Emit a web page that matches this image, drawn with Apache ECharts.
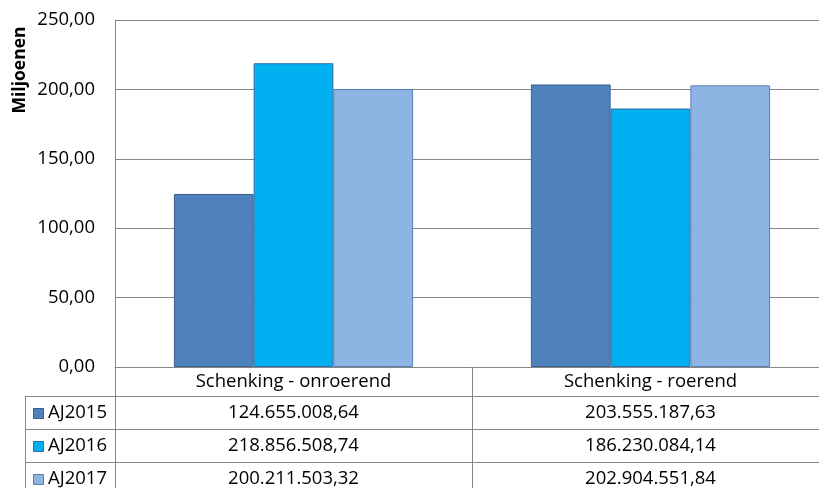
<!DOCTYPE html>
<html><head><meta charset="utf-8">
<script src="https://cdn.jsdelivr.net/npm/echarts@6/dist/echarts.min.js"></script>
<style>html,body{margin:0;padding:0;overflow:hidden;background:#fff}#c{width:829px;height:488px}</style>
</head><body><div id="c"></div>
<script>
const categories = ['Schenking - onroerend', 'Schenking - roerend'];
const seriesNames = ['AJ2015', 'AJ2016', 'AJ2017'];
const aj2015 = [124655008.64, 203555187.63];
const aj2016 = [218856508.74, 186230084.14];
const aj2017 = [200211503.32, 202904551.84];
const yTicks = [0, 50, 100, 150, 200, 250];
const yTitle = 'Miljoenen';

const seriesValues = [aj2015, aj2016, aj2017];
const colors = ['#4F81BD', '#00B0F0', '#8DB4E2'];
const borders = ['#3A5F8F', '#2A6FA8', '#5A7FB0'];
const FONT = 'Open Sans';
const FS = 18.5;
const GRID = '#868686';

function fmtNL(v) {
  const s = v.toFixed(2).split('.');
  return s[0].replace(/\B(?=(\d{3})+(?!\d))/g, '.') + ',' + s[1];
}

const chart = echarts.init(document.getElementById('c'), null, {renderer: 'canvas'});
const option = {
  animation: false,
  grid: {left: 115, top: 20, right: 0, bottom: 121, containLabel: false},
  xAxis: {
    type: 'category', data: categories,
    axisLine: {show: true, lineStyle: {color: GRID, width: 1}},
    axisTick: {show: false}, axisLabel: {show: false}, splitLine: {show: false}
  },
  yAxis: {
    type: 'value', min: yTicks[0], max: yTicks[yTicks.length - 1], interval: yTicks[1] - yTicks[0],
    axisLine: {show: true, lineStyle: {color: GRID, width: 1}},
    axisTick: {show: false},
    splitLine: {show: true, lineStyle: {color: GRID, width: 1}},
    axisLabel: {
      margin: 20, color: '#000', fontFamily: FONT, fontSize: FS,
      formatter: v => v.toFixed(2).replace('.', ',')
    }
  },
  series: seriesNames.map((n, i) => ({
    name: n, type: 'bar', barGap: '0%', barCategoryGap: '33%',
    data: seriesValues[i].map(v => v / 1e6),
    itemStyle: {color: colors[i], borderColor: borders[i], borderWidth: 1}
  }))
};
chart.setOption(option);

function buildTable() {
  const c0 = chart.convertToPixel({xAxisIndex: 0}, 0);
  const c1 = chart.convertToPixel({xAxisIndex: 0}, 1);
  const cw = c1 - c0;
  const yAxisX = c0 - cw / 2;
  const right = c1 + cw / 2;
  const baseY = chart.convertToPixel({yAxisIndex: 0}, 0);
  const headerH = 29, rowH = 33, legendLeft = 25;
  const els = [];
  const font = FS + 'px "' + FONT + '"';
  const line = (x1, y1, x2, y2) => els.push({type: 'line', shape: {x1, y1, x2, y2}, style: {stroke: GRID, lineWidth: 1}, z: 10});
  const px = v => Math.round(v) + 0.5;
  line(px(yAxisX), baseY, px(yAxisX), 488);
  line(px(yAxisX + cw), baseY, px(yAxisX + cw), 488);
  line(px(right), baseY, px(right), 488);
  line(px(legendLeft), baseY + headerH, px(legendLeft), 488);
  for (let r = 0; r < 3; r++) {
    const y = px(baseY + headerH + r * rowH);
    line(legendLeft, y, right, y);
  }
  const centers = [c0, c1];
  categories.forEach((cat, i) => {
    els.push({type: 'text', x: centers[i], y: baseY + headerH / 2, style: {text: cat, fill: '#000', font: font, textAlign: 'center', textVerticalAlign: 'middle'}, z: 10});
  });
  seriesNames.forEach((n, r) => {
    const cy = baseY + headerH + r * rowH + rowH / 2;
    els.push({type: 'rect', shape: {x: 33.5, y: Math.round(cy - 5) + 0.5, width: 10, height: 10}, style: {fill: colors[r], stroke: borders[r], lineWidth: 1}, z: 10});
    els.push({type: 'text', x: 48, y: cy, style: {text: n, fill: '#000', font: font, textAlign: 'left', textVerticalAlign: 'middle'}, z: 10});
    seriesValues[r].forEach((v, i) => {
      els.push({type: 'text', x: centers[i], y: cy, style: {text: fmtNL(v), fill: '#000', font: font, textAlign: 'center', textVerticalAlign: 'middle'}, z: 10});
    });
  });
  els.push({type: 'text', x: 20, y: 70, rotation: Math.PI / 2, style: {text: yTitle, fill: '#000', font: 'bold 17.5px "' + FONT + '"', textAlign: 'center', textVerticalAlign: 'middle'}, z: 10});
  chart.setOption({graphic: {elements: els}});
}
buildTable();
</script>
</body></html>
